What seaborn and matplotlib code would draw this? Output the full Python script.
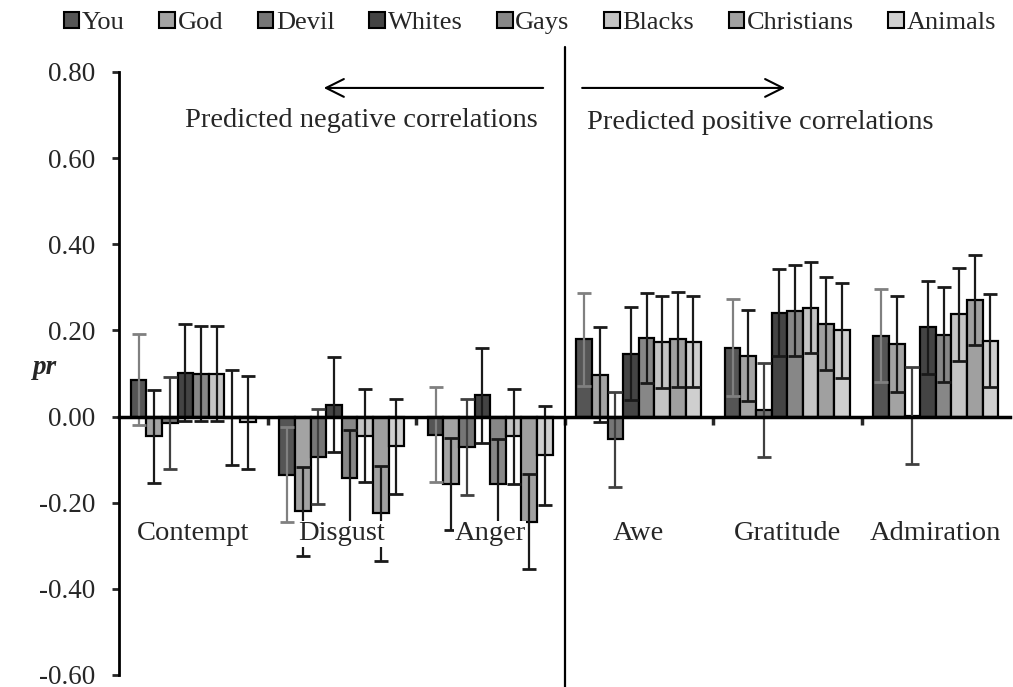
import numpy as np
import pandas as pd
import seaborn as sns
import matplotlib.pyplot as plt

# ---- data ----
emotions = ['Contempt', 'Disgust', 'Anger', 'Awe', 'Gratitude', 'Admiration']
targets = ['You', 'God', 'Devil', 'Whites', 'Gays', 'Blacks', 'Christians', 'Animals']

pr_you = [0.086, -0.135, -0.042, 0.179, 0.160, 0.188]
pr_god = [-0.046, -0.220, -0.156, 0.097, 0.141, 0.169]
pr_devil = [-0.015, -0.093, -0.071, -0.053, 0.016, 0.002]
pr_whites = [0.102, 0.028, 0.049, 0.146, 0.241, 0.207]
pr_gays = [0.100, -0.142, -0.156, 0.183, 0.246, 0.190]
pr_blacks = [0.100, -0.044, -0.046, 0.174, 0.253, 0.237]
pr_christians = [-0.003, -0.225, -0.244, 0.179, 0.216, 0.271]
pr_animals = [-0.013, -0.069, -0.090, 0.174, 0.200, 0.176]

err_you = [0.105, 0.110, 0.110, 0.109, 0.112, 0.108]
err_god = [0.108, 0.104, 0.107, 0.110, 0.106, 0.111]
err_devil = [0.107, 0.110, 0.112, 0.110, 0.109, 0.112]
err_whites = [0.113, 0.110, 0.110, 0.108, 0.101, 0.108]
err_gays = [0.110, 0.110, 0.105, 0.105, 0.105, 0.110]
err_blacks = [0.110, 0.108, 0.110, 0.107, 0.105, 0.109]
err_christians = [0.110, 0.110, 0.110, 0.110, 0.108, 0.105]
err_animals = [0.108, 0.110, 0.115, 0.105, 0.110, 0.108]

bar_colors = ['#555555', '#a3a3a3', '#767676', '#444444',
              '#878787', '#c4c4c4', '#a0a0a0', '#cfcfcf']
err_colors = ['#808080', '#1a1a1a', '#404040', '#1a1a1a',
              '#1a1a1a', '#1a1a1a', '#1a1a1a', '#1a1a1a']

all_pr = [pr_you, pr_god, pr_devil, pr_whites, pr_gays, pr_blacks, pr_christians, pr_animals]
all_err = [err_you, err_god, err_devil, err_whites, err_gays, err_blacks, err_christians, err_animals]

rows = []
for t, vals, errs in zip(targets, all_pr, all_err):
    for e, v, s in zip(emotions, vals, errs):
        rows.append({'emotion': e, 'target': t, 'pr': v, 'err': s})
df = pd.DataFrame(rows)

# ---- style ----
sns.set_style('white')
plt.rcParams['font.family'] = ['Liberation Serif', 'DejaVu Serif']
plt.rcParams['axes.unicode_minus'] = False

fig = plt.figure(figsize=(10.13, 6.87), dpi=100)
ax = fig.add_axes([119 / 1013, 12 / 687, 891 / 1013, 603 / 687])

sns.barplot(data=df, x='emotion', y='pr', hue='target', order=emotions,
            hue_order=targets, palette=bar_colors, width=0.84, gap=0,
            edgecolor='black', linewidth=1.6, errorbar=None, saturation=1,
            ax=ax)

# error bars placed on the bars seaborn drew
bar_containers = list(ax.containers)
for i, cont in enumerate(bar_containers):
    xs = [p.get_x() + p.get_width() / 2 for p in cont.patches]
    ax.errorbar(xs, all_pr[i], yerr=all_err[i], fmt='none',
                ecolor=err_colors[i], elinewidth=1.6, capsize=5,
                capthick=2, zorder=3)

ax.set_ylim(-0.6, 0.8)
ax.set_xlim(-0.5, 5.5)
ax.set_yticks(np.arange(-0.6, 0.81, 0.2))
ax.set_yticklabels([f'{v:.2f}' for v in np.arange(-0.6, 0.81, 0.2)], fontsize=19.5)
ax.tick_params(axis='y', direction='out', length=5, width=2, pad=12, left=True)

ax.set_xticks([])
ax.set_xticks(np.arange(0.5, 5.0, 1.0), minor=True)
ax.tick_params(axis='x', which='minor', direction='out', length=6, width=2.5,
               bottom=True, labelbottom=False)
ax.set_xlabel('')
ax.set_ylabel('')

for side in ['top', 'right']:
    ax.spines[side].set_visible(False)
ax.spines['left'].set_linewidth(2)
ax.spines['left'].set_color('black')
ax.spines['bottom'].set_position(('data', 0))
ax.spines['bottom'].set_linewidth(2.5)
ax.spines['bottom'].set_color('black')
ax.spines['bottom'].set_zorder(4)

# category labels with white background
for i, e in enumerate(emotions):
    ax.text(i, -0.272, e, ha='center', va='center', fontsize=20.5,
            bbox=dict(facecolor='white', edgecolor='none', pad=0.5), zorder=5)

# separator and direction arrows
ax.plot([2.5, 2.5], [-0.63, 0.857], color='black', lw=1.6, clip_on=False, zorder=6)
ax.annotate('', xy=(0.86, 0.763), xytext=(2.375, 0.763),
            arrowprops=dict(arrowstyle='->', lw=1.5, color='black',
                            mutation_scale=32))
ax.annotate('', xy=(4.005, 0.763), xytext=(2.6, 0.763),
            arrowprops=dict(arrowstyle='->', lw=1.5, color='black',
                            mutation_scale=32))
ax.text(1.13, 0.688, 'Predicted negative correlations', ha='center',
        va='center', fontsize=20.5)
ax.text(3.82, 0.683, 'Predicted positive correlations', ha='center',
        va='center', fontsize=20.5)

fig.text(45 / 1013, 1 - 368 / 687, 'pr', fontsize=19.5, fontweight='bold',
         fontstyle='italic', ha='center', va='center')

# legend across the top
handles, labels = ax.get_legend_handles_labels()
ax.get_legend().remove()
for h in handles:
    h.set_edgecolor('black')
    h.set_linewidth(1.5)
fig.legend(handles, labels, loc='center', bbox_to_anchor=(530 / 1013, 1 - 23 / 687),
           ncol=8, frameon=False, fontsize=19, handlelength=0.6,
           handleheight=0.6, handletextpad=0.1, columnspacing=1.3)

fig.savefig('out.png', dpi=100)
